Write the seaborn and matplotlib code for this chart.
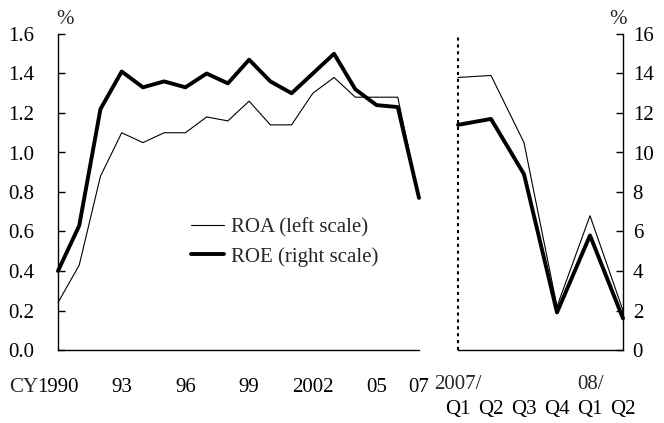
import numpy as np
import pandas as pd
import matplotlib
matplotlib.use("Agg")
import matplotlib.pyplot as plt
import matplotlib.transforms as mtransforms
import seaborn as sns

# ========================
# DATA
# ========================
years = list(range(1990, 2008))
roa_annual = [0.24, 0.43, 0.88, 1.10, 1.05, 1.10, 1.10, 1.18, 1.16, 1.26,
              1.14, 1.14, 1.30, 1.38, 1.28, 1.28, 1.28, 0.77]
roe_annual = [4.0, 6.3, 12.2, 14.1, 13.3, 13.6, 13.3, 14.0, 13.5, 14.7,
              13.6, 13.0, 14.0, 15.0, 13.2, 12.4, 12.3, 7.7]
year_labels = ["1990", "", "", "93", "", "", "96", "", "", "99",
               "", "", "2002", "", "", "05", "", "07"]

quarters = [0, 1, 2, 3, 4, 5]
quarter_labels = ["Q1", "Q2", "Q3", "Q4", "Q1", "Q2"]
quarter_years = {0: "2007/", 4: "08/"}
roa_quarterly = [1.38, 1.39, 1.05, 0.22, 0.68, 0.20]
roe_quarterly = [11.4, 11.7, 8.9, 1.9, 5.8, 1.6]

annual = pd.DataFrame({"year": years, "ROA": roa_annual, "ROE": roe_annual})
quarterly = pd.DataFrame({"q": quarters, "ROA": roa_quarterly, "ROE": roe_quarterly})

# ========================
# STYLE
# ========================
sns.set_style("white")
plt.rcParams["font.family"] = ["Liberation Serif", "DejaVu Serif"]
plt.rcParams["font.size"] = 15
plt.rcParams["xtick.direction"] = "in"
plt.rcParams["ytick.direction"] = "in"

THIN = 0.8
THICK = 2.8
FS = 15
W, H = 664, 423

fig = plt.figure(figsize=(6.64, 4.23), dpi=100)
ax1 = fig.add_axes([58 / W, 1 - 350 / H, (419 - 58) / W, (350 - 34) / H])
ax1r = ax1.twinx()
ax2 = fig.add_axes([458 / W, 1 - 350 / H, (623 - 458) / W, (350 - 34) / H])
ax2r = ax2.twinx()

# annual panel
sns.lineplot(data=annual, x="year", y="ROA", ax=ax1, color="black",
             linewidth=THIN, label="ROA (left scale)", legend=False)
sns.lineplot(data=annual, x="year", y="ROE", ax=ax1r, color="black",
             linewidth=THICK, label="ROE (right scale)", legend=False)

# quarterly panel
sns.lineplot(data=quarterly, x="q", y="ROA", ax=ax2, color="black",
             linewidth=THIN, legend=False)
sns.lineplot(data=quarterly, x="q", y="ROE", ax=ax2r, color="black",
             linewidth=THICK, legend=False)

for a in (ax1, ax2):
    a.set_ylim(0, 1.6)
for a in (ax1r, ax2r):
    a.set_ylim(0, 16)

ax1.set_xlim(years[0], years[-1])
ax2.set_xlim(quarters[0], quarters[-1])

for a in (ax1, ax1r, ax2, ax2r):
    a.set_xlabel("")
    a.set_ylabel("")
    a.set_facecolor("none")
    a.grid(False)
    for ln in a.get_lines():
        ln.set_clip_on(False)
    for s in a.spines.values():
        s.set_visible(False)
        s.set_color("black")
        s.set_linewidth(1.0)

# left panel axes
ax1.spines["left"].set_visible(True)
ax1.spines["bottom"].set_visible(True)
ax1.set_yticks(np.arange(0, 1.61, 0.2))
ax1.set_yticklabels([f"{v:.1f}" for v in np.arange(0, 1.61, 0.2)])
ax1.set_xticks(years)
ax1.set_xticklabels(year_labels)
ax1.tick_params(axis="both", length=5, width=1, colors="black", labelsize=FS)
ax1.tick_params(axis="x", pad=20)
ax1.tick_params(axis="y", pad=17)
ax1r.set_yticks([])

# right panel axes
ax2.spines["bottom"].set_visible(True)
ax2.spines["left"].set_visible(True)
ax2.spines["left"].set_linestyle((0, (1.5, 1.8)))
ax2.spines["left"].set_linewidth(1.5)
ax2.spines["left"].set_capstyle("butt")
ax2.set_yticks([])
ax2.set_xticks(quarters)
ax2.set_xticklabels(quarter_labels)
ax2.tick_params(axis="x", length=5, width=1, colors="black", labelsize=FS, pad=36)
ax2r.spines["right"].set_visible(True)
ax2r.set_yticks(np.arange(0, 17, 2))
ax2r.tick_params(axis="y", length=5, width=1, colors="black", labelsize=FS, pad=7)

# year markers above the quarter labels
trans = mtransforms.blended_transform_factory(ax2.transData, fig.transFigure)
for q, lab in quarter_years.items():
    ax2.text(q, 1 - 384 / H, lab, transform=trans, ha="center", va="center",
             fontsize=FS)

# unit marks and prefix
fig.text(65 / W, 1 - 20 / H, "%", ha="center", va="center", fontsize=15)
fig.text(618 / W, 1 - 20 / H, "%", ha="center", va="center", fontsize=15)
fig.text(38 / W, 1 - 387 / H, "CY", ha="right", va="center", fontsize=FS)

# legend
handles = ax1.get_lines()[:1] + ax1r.get_lines()[:1]
ax1.legend(handles, [h.get_label() for h in handles], loc="upper left",
           bbox_to_anchor=(191 / W, 1 - 218 / H), bbox_transform=fig.transFigure,
           frameon=False, fontsize=15, handlelength=1.6, handletextpad=0.3,
           labelspacing=0.45, borderaxespad=0, borderpad=0)

fig.savefig("out.png", dpi=100)
